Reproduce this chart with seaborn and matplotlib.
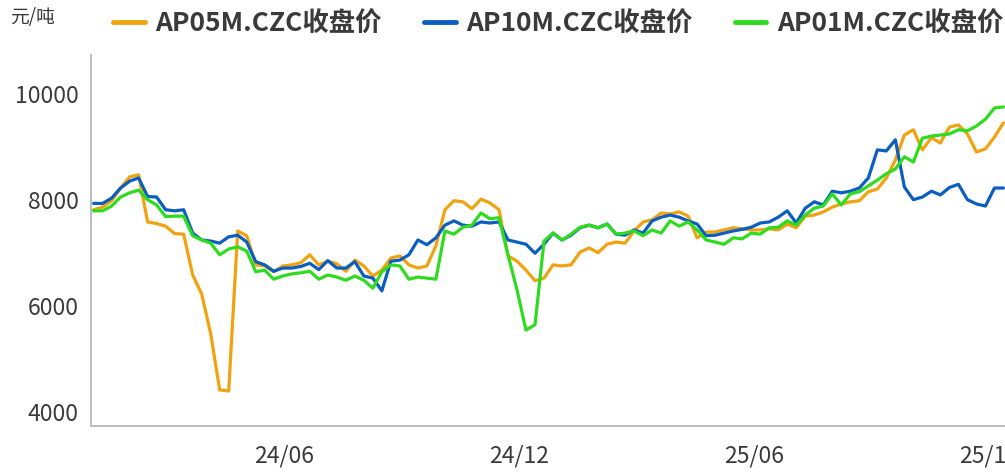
"""AP apple futures closing prices (05 / 10 / 01 contracts), weekly."""
import matplotlib
matplotlib.use("Agg")
import matplotlib.dates as mdates
import matplotlib.pyplot as plt
import pandas as pd
import seaborn as sns

# ── Data (元/吨, weekly closes) ────────────────────────────────────────
START = "2024-01-05"

ap05 = [
    8080, 8130, 8250, 8490, 8700, 8740, 7850, 7820, 7770, 7630,
    7620, 6850, 6490, 5740, 4680, 4660, 7680, 7590, 7040, 7020,
    6910, 7020, 7040, 7080, 7230, 7040, 7110, 7060, 6920, 7130,
    7020, 6830, 6940, 7170, 7210, 7040, 6980, 7020, 7400, 8080,
    8250, 8230, 8100, 8280, 8210, 8080, 7210, 7110, 6940, 6740,
    6790, 7040, 7020, 7040, 7280, 7360, 7270, 7430, 7470, 7450,
    7680, 7850, 7890, 8020, 8000, 8040, 7960, 7550, 7660, 7660,
    7700, 7740, 7720, 7700, 7700, 7720, 7700, 7810, 7740, 7960,
    7980, 8040, 8130, 8190, 8230, 8250, 8420, 8470, 8680, 9020,
    9490, 9590, 9210, 9440, 9340, 9640, 9680, 9510, 9170, 9230,
    9450, 9720,
]

ap10 = [
    8200, 8200, 8300, 8490, 8620, 8680, 8330, 8320, 8080, 8060,
    8080, 7640, 7510, 7490, 7450, 7570, 7600, 7470, 7100, 7040,
    6920, 6980, 6980, 7010, 7070, 6950, 7120, 6980, 6980, 7100,
    6830, 6790, 6550, 7110, 7130, 7230, 7510, 7420, 7550, 7790,
    7870, 7790, 7770, 7850, 7830, 7850, 7510, 7470, 7430, 7260,
    7430, 7640, 7510, 7600, 7740, 7790, 7740, 7810, 7620, 7600,
    7700, 7640, 7870, 7940, 7980, 7940, 7870, 7810, 7590, 7600,
    7640, 7680, 7710, 7750, 7830, 7850, 7940, 8060, 7830, 8110,
    8230, 8170, 8430, 8400, 8430, 8490, 8680, 9210, 9190, 9400,
    8510, 8270, 8320, 8430, 8360, 8500, 8560, 8270, 8190, 8150,
    8490, 8490,
]

ap01 = [
    8060, 8060, 8150, 8320, 8400, 8450, 8270, 8170, 7950, 7960,
    7960, 7590, 7510, 7450, 7230, 7340, 7380, 7300, 6910, 6940,
    6770, 6830, 6870, 6890, 6920, 6770, 6850, 6810, 6750, 6830,
    6750, 6600, 6910, 7040, 7020, 6770, 6810, 6790, 6770, 7680,
    7620, 7750, 7790, 8020, 7910, 7930, 7230, 6570, 5810, 5910,
    7490, 7640, 7510, 7620, 7750, 7790, 7740, 7810, 7620, 7640,
    7680, 7590, 7700, 7640, 7870, 7770, 7850, 7700, 7510, 7470,
    7430, 7550, 7530, 7640, 7620, 7740, 7750, 7870, 7790, 7980,
    8110, 8150, 8380, 8170, 8380, 8420, 8530, 8640, 8760, 8850,
    9080, 8980, 9430, 9470, 9490, 9510, 9590, 9570, 9660, 9790,
    10000, 10020,
]

series_names = ["AP05M.CZC收盘价", "AP10M.CZC收盘价", "AP01M.CZC收盘价"]
series_colors = ["#F0A30F", "#0A5EC0", "#2EDC1F"]
x_ticks = ["2024-06-01", "2024-12-01", "2025-06-01", "2025-12-01"]
y_ticks = [4000, 6000, 8000, 10000]
unit_label = "元/吨"

# ── Style ─────────────────────────────────────────────────────────────
sns.set_theme(style="white")
plt.rcParams["font.family"] = ["Noto Sans CJK SC", "DejaVu Sans"]
TEXT = "#3a3a3a"
AXIS = "#bdbdbd"

dates = pd.date_range(START, periods=len(ap05), freq="7D")
df = pd.concat(
    [pd.DataFrame({"date": dates, "price": vals, "series": name})
     for name, vals in zip(series_names, [ap05, ap10, ap01])],
    ignore_index=True,
)

fig = plt.figure(figsize=(10.05, 4.73), dpi=100)
ax = fig.add_axes([91 / 1005, 1 - 426 / 473, 1 - 91 / 1005 + 0.01, (426 - 55) / 473])

sns.lineplot(
    data=df, x="date", y="price", hue="series",
    hue_order=series_names, palette=series_colors,
    linewidth=2.3, ax=ax, legend=False,
)

ax.set_xlim(pd.Timestamp("2024-01-03"), pd.Timestamp("2025-12-21"))
ax.set_ylim(4000, 11000)
ax.set_xticks(pd.to_datetime(x_ticks))
ax.xaxis.set_major_formatter(mdates.DateFormatter("%y/%m"))
ax.set_yticks(y_ticks)
ax.set_xlabel("")
ax.set_ylabel("")

for side in ["top", "right"]:
    ax.spines[side].set_visible(False)
for side in ["left", "bottom"]:
    ax.spines[side].set_color(AXIS)
    ax.spines[side].set_linewidth(1.4)

ax.tick_params(axis="both", direction="in", length=8, width=1.2, color=AXIS,
               labelsize=16.5, labelcolor=TEXT)
ax.tick_params(axis="x", pad=13)
ax.tick_params(axis="y", pad=9)

# y labels sit just above their tick marks
for lab in ax.get_yticklabels():
    lab.set_verticalalignment("bottom")

fig.text(10 / 1005, 1 - 18 / 473, unit_label, fontsize=13.5, color=TEXT,
         ha="left", va="center")

handles = [plt.Line2D([], [], color=c, linewidth=3.5) for c in series_colors]
leg = fig.legend(
    handles, series_names, loc="center left",
    bbox_to_anchor=(113 / 1005, 1 - 24 / 473), ncol=3, frameon=False,
    borderpad=0, borderaxespad=0,
    handlelength=1.2, handletextpad=0.4, columnspacing=1.6,
    prop={"size": 19, "weight": "bold"},
)
for t in leg.get_texts():
    t.set_color(TEXT)

fig.savefig("out.png", dpi=100)
